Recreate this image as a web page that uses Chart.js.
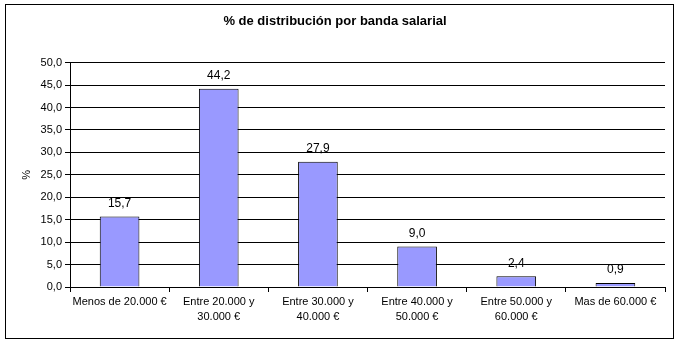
<!DOCTYPE html>
<html>
<head>
<meta charset="utf-8">
<script src="https://cdn.jsdelivr.net/npm/chart.js@4"></script>
<style>
  html, body { margin: 0; padding: 0; background: #fff; }
  #wrap { width: 680px; height: 345px; position: relative; }
</style>
</head>
<body>
<div id="wrap"><canvas id="salaryChart" width="680" height="345"></canvas></div>
<script>
// chart data
const chartTitle = '% de distribución por banda salarial';
const axisLabel = '%';
const bands = [
    ['Menos de 20.000 €'],
    ['Entre 20.000 y', '30.000 €'],
    ['Entre 30.000 y', '40.000 €'],
    ['Entre 40.000 y', '50.000 €'],
    ['Entre 50.000 y', '60.000 €'],
    ['Mas de 60.000 €']
];
const shares = [15.7, 44.2, 27.9, 9.0, 2.4, 0.9];
const yMin = 0;
const yMax = 50;
const yStep = 5;

function formatComma(v) {
    return Number(v).toFixed(1).replace('.', ',');
}

// frame around the whole chart
const framePlugin = {
    id: 'frame',
    afterDraw(chart) {
        const ctx = chart.ctx;
        ctx.save();
        ctx.strokeStyle = '#000';
        ctx.lineWidth = 1;
        ctx.strokeRect(5.5, 4.5, 668, 334);
        ctx.restore();
    }
};

// value labels above the bars
const valueLabels = {
    id: 'valueLabels',
    afterDatasetsDraw(chart) {
        const ctx = chart.ctx;
        const meta = chart.getDatasetMeta(0);
        ctx.save();
        ctx.font = '12px "Liberation Sans", Arial, sans-serif';
        ctx.fillStyle = '#000';
        ctx.textAlign = 'center';
        ctx.textBaseline = 'bottom';
        meta.data.forEach((bar, i) => {
            ctx.fillText(formatComma(shares[i]), bar.x, bar.y - 7);
        });
        ctx.restore();
    }
};

document.addEventListener('DOMContentLoaded', function() {
    const ctx = document.getElementById('salaryChart').getContext('2d');
    new Chart(ctx, {
        type: 'bar',
        data: {
            labels: bands,
            datasets: [{
                data: shares,
                backgroundColor: '#9999ff',
                borderColor: '#000',
                borderWidth: 1,
                categoryPercentage: 1,
                barPercentage: 0.4
            }]
        },
        options: {
            responsive: false,
            animation: false,
            layout: { padding: { left: 5, right: 15, top: 4, bottom: 0 } },
            plugins: {
                legend: { display: false },
                tooltip: { enabled: false },
                title: {
                    display: true,
                    text: chartTitle,
                    color: '#000',
                    font: { family: '"Liberation Sans", Arial, sans-serif', size: 13, weight: 'bold', lineHeight: 1.2 },
                    padding: { top: 10, bottom: 33 }
                }
            },
            scales: {
                x: {
                    afterFit(scale) { scale.height = 58; },
                    border: { display: true, color: '#000', width: 1 },
                    grid: { display: true, drawOnChartArea: false, offset: true, color: '#000', tickLength: 5 },
                    ticks: {
                        color: '#000',
                        padding: 3,
                        maxRotation: 0,
                        autoSkip: false,
                        font: { family: '"Liberation Sans", Arial, sans-serif', size: 11, lineHeight: 1.35 }
                    }
                },
                y: {
                    min: yMin,
                    max: yMax,
                    afterFit(scale) { scale.width = 65; },
                    border: { display: true, color: '#000', width: 1 },
                    grid: { color: '#000', tickLength: 5 },
                    title: {
                        display: true,
                        text: axisLabel,
                        color: '#000',
                        font: { family: '"Liberation Sans", Arial, sans-serif', size: 11 },
                        padding: { top: 15, bottom: 0 }
                    },
                    ticks: {
                        stepSize: yStep,
                        color: '#000',
                        padding: 3,
                        font: { family: '"Liberation Sans", Arial, sans-serif', size: 11 },
                        callback: v => formatComma(v)
                    }
                }
            }
        },
        plugins: [framePlugin, valueLabels]
    });
});
</script>
</body>
</html>
